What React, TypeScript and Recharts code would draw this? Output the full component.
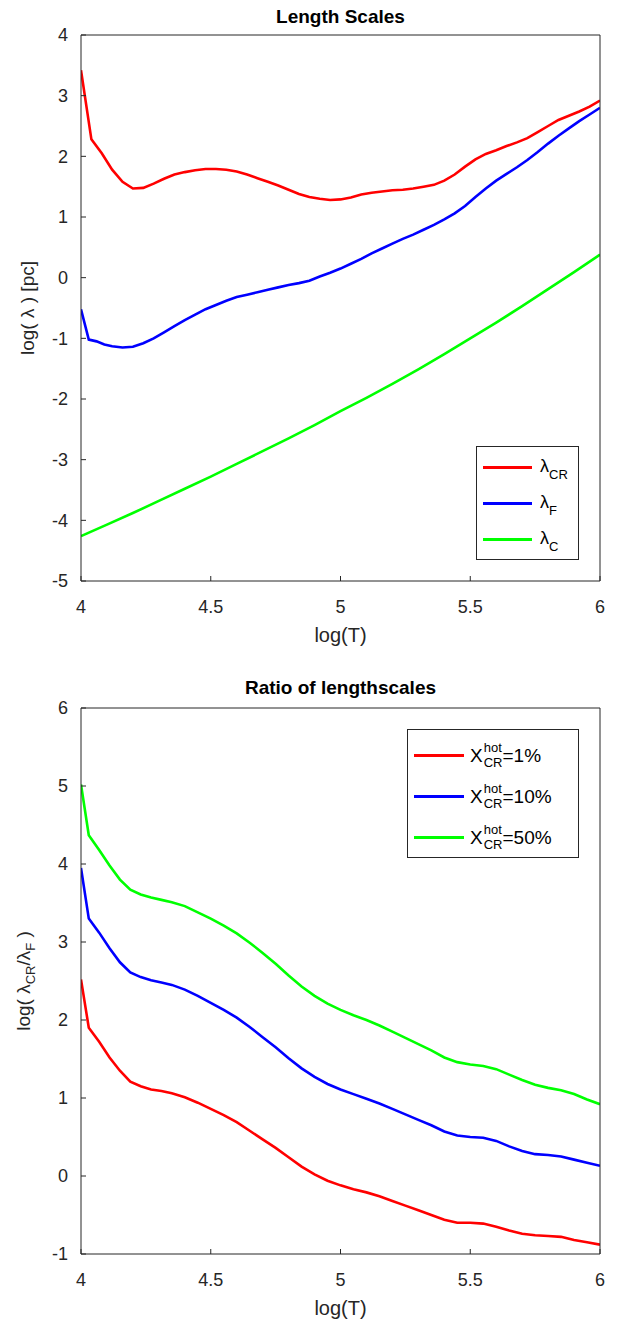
import React from "react";
import { LineChart, Line, XAxis, YAxis } from "recharts";

const FONT = '"Liberation Sans", Arial, Helvetica, sans-serif';
const INK = "#262626";
const RED = "#ff0000";
const BLUE = "#0000ff";
const GREEN = "#00ff00";

// --- Length Scales (log T vs log lambda) ---
const tCR = [4.0, 4.04, 4.08, 4.12, 4.16, 4.2, 4.24, 4.28, 4.32, 4.36, 4.4, 4.44, 4.48, 4.52, 4.56, 4.6, 4.64, 4.68, 4.72, 4.76, 4.8, 4.84, 4.88, 4.92, 4.96, 5.0, 5.04, 5.08, 5.12, 5.16, 5.2, 5.24, 5.28, 5.32, 5.36, 5.4, 5.44, 5.48, 5.52, 5.56, 5.6, 5.64, 5.68, 5.72, 5.76, 5.8, 5.84, 5.88, 5.92, 5.96, 6.0];
const lamCR = [3.42, 2.28, 2.05, 1.78, 1.58, 1.47, 1.48, 1.55, 1.63, 1.7, 1.74, 1.77, 1.79, 1.79, 1.78, 1.75, 1.7, 1.64, 1.58, 1.52, 1.45, 1.38, 1.33, 1.3, 1.28, 1.29, 1.32, 1.37, 1.4, 1.42, 1.44, 1.45, 1.47, 1.5, 1.53, 1.6, 1.7, 1.83, 1.95, 2.04, 2.1, 2.17, 2.23, 2.3, 2.4, 2.5, 2.6, 2.67, 2.74, 2.82, 2.92];

const tF = [4.0, 4.03, 4.06, 4.09, 4.12, 4.16, 4.2, 4.24, 4.28, 4.32, 4.36, 4.4, 4.44, 4.48, 4.52, 4.56, 4.6, 4.64, 4.68, 4.72, 4.76, 4.8, 4.84, 4.88, 4.92, 4.96, 5.0, 5.04, 5.08, 5.12, 5.16, 5.2, 5.24, 5.28, 5.32, 5.36, 5.4, 5.44, 5.48, 5.52, 5.56, 5.6, 5.64, 5.68, 5.72, 5.76, 5.8, 5.84, 5.88, 5.92, 5.96, 6.0];
const lamF = [-0.52, -1.02, -1.05, -1.1, -1.13, -1.15, -1.14, -1.08, -1.0, -0.9, -0.8, -0.7, -0.61, -0.52, -0.45, -0.38, -0.32, -0.28, -0.24, -0.2, -0.16, -0.12, -0.09, -0.05, 0.02, 0.08, 0.15, 0.23, 0.31, 0.4, 0.48, 0.56, 0.64, 0.71, 0.79, 0.87, 0.96, 1.06, 1.18, 1.33, 1.47, 1.6, 1.71, 1.82, 1.94, 2.07, 2.21, 2.34, 2.46, 2.58, 2.69, 2.8];

const tC = [4.0, 4.1, 4.2, 4.3, 4.4, 4.5, 4.6, 4.7, 4.8, 4.9, 5.0, 5.1, 5.2, 5.3, 5.4, 5.5, 5.6, 5.7, 5.8, 5.9, 6.0];
const lamC = [-4.26, -4.07, -3.88, -3.68, -3.48, -3.28, -3.07, -2.86, -2.65, -2.43, -2.2, -1.98, -1.75, -1.51, -1.26, -1.0, -0.74, -0.47, -0.19, 0.09, 0.38];

// --- Ratio of lengthscales ---
const tRatio = [4.0, 4.03, 4.07, 4.11, 4.15, 4.19, 4.23, 4.27, 4.31, 4.35, 4.4, 4.45, 4.5, 4.55, 4.6, 4.65, 4.7, 4.75, 4.8, 4.85, 4.9, 4.95, 5.0, 5.05, 5.1, 5.15, 5.2, 5.25, 5.3, 5.35, 5.4, 5.45, 5.5, 5.55, 5.6, 5.65, 5.7, 5.75, 5.8, 5.85, 5.9, 5.95, 6.0];
const ratio1 = [2.52, 1.9, 1.72, 1.52, 1.35, 1.21, 1.15, 1.11, 1.09, 1.06, 1.01, 0.94, 0.86, 0.78, 0.69, 0.58, 0.47, 0.36, 0.24, 0.12, 0.02, -0.06, -0.12, -0.17, -0.21, -0.26, -0.32, -0.38, -0.44, -0.5, -0.56, -0.6, -0.6, -0.61, -0.65, -0.7, -0.74, -0.76, -0.77, -0.78, -0.82, -0.85, -0.88];
const ratio10 = [3.95, 3.3, 3.12, 2.92, 2.74, 2.61, 2.55, 2.51, 2.48, 2.45, 2.39, 2.31, 2.22, 2.13, 2.03, 1.91, 1.78, 1.65, 1.51, 1.38, 1.27, 1.18, 1.11, 1.05, 0.99, 0.93, 0.86, 0.79, 0.72, 0.65, 0.57, 0.52, 0.5, 0.49, 0.45, 0.38, 0.32, 0.28, 0.27, 0.25, 0.21, 0.17, 0.13];
const ratio50 = [5.02, 4.37, 4.18, 3.98, 3.8, 3.67, 3.61, 3.57, 3.54, 3.51, 3.46, 3.38, 3.3, 3.21, 3.11, 2.99, 2.86, 2.72, 2.57, 2.43, 2.31, 2.21, 2.13, 2.06, 2.0, 1.93, 1.85, 1.77, 1.69, 1.61, 1.52, 1.46, 1.43, 1.41, 1.37, 1.3, 1.23, 1.17, 1.13, 1.1, 1.05, 0.98, 0.92];

const xTicks = [4, 4.5, 5, 5.5, 6];
const yTicksTop = [-5, -4, -3, -2, -1, 0, 1, 2, 3, 4];
const yTicksBottom = [-1, 0, 1, 2, 3, 4, 5, 6];
const topNames = ["CR", "F", "C"];
const bottomNames = ["=1%", "=10%", "=50%"];

const zip = (xs: number[], ys: number[]) => xs.map((t, i) => ({ t, v: ys[i] }));

const tickStyle = { fill: INK, fontSize: 18, fontFamily: FONT };
const blank = () => "";
const colors = [RED, BLUE, GREEN];

function TopYLabel() {
  return (
    <text transform="translate(34,308) rotate(-90)" textAnchor="middle" fill={INK} fontSize={19} fontFamily={FONT}>
      log( λ ) [pc]
    </text>
  );
}

function BottomYLabel() {
  return (
    <text transform="translate(30,319) rotate(-90)" textAnchor="middle" fill={INK} fontSize={19} fontFamily={FONT}>
      <tspan>log( λ</tspan>
      <tspan dy={5} fontSize={13}>CR</tspan>
      <tspan dy={-5}>/λ</tspan>
      <tspan dy={5} fontSize={13}>F</tspan>
      <tspan dy={-5}> )</tspan>
    </text>
  );
}

function TopLegend() {
  return (
    <div style={{ position: "absolute", left: 476, top: 446, width: 101, height: 112, border: `1px solid ${INK}`, background: "#fff", fontFamily: FONT, color: "#000" }}>
      {topNames.map((n, i) => (
        <div key={n} style={{ position: "absolute", left: 6, top: 10 + i * 36, display: "flex", alignItems: "center", height: 20 }}>
          <div style={{ width: 49, height: 3, background: colors[i] }} />
          <span style={{ marginLeft: 8, fontSize: 18, lineHeight: "18px" }}>
            λ<span style={{ fontSize: 13, position: "relative", top: 7 }}>{n}</span>
          </span>
        </div>
      ))}
    </div>
  );
}

function BottomLegend() {
  return (
    <div style={{ position: "absolute", left: 407, top: 729, width: 170, height: 127, border: `1px solid ${INK}`, background: "#fff", fontFamily: FONT, color: "#000" }}>
      {bottomNames.map((n, i) => (
        <div key={n} style={{ position: "absolute", left: 6, top: 11 + i * 41, display: "flex", alignItems: "center", height: 28 }}>
          <div style={{ width: 50, height: 3, background: colors[i] }} />
          <span style={{ marginLeft: 6, fontSize: 19, lineHeight: "19px" }}>X</span>
          <span style={{ display: "inline-flex", flexDirection: "column", fontSize: 13, lineHeight: "13px", marginLeft: 1 }}>
            <span>hot</span>
            <span style={{ marginTop: 2 }}>CR</span>
          </span>
          <span style={{ fontSize: 19, lineHeight: "19px" }}>{n}</span>
        </div>
      ))}
    </div>
  );
}

function Panel({ lines, yDomain, yTicks, yLabel, marginTop, marginBottom }: any) {
  return (
    <LineChart width={619} height={662} margin={{ top: marginTop - 1, right: 18, bottom: marginBottom, left: 21 }}>
      <XAxis dataKey="t" type="number" domain={[4, 6]} ticks={xTicks} allowDataOverflow height={40}
        stroke={INK} tickSize={-5} tickMargin={24} tick={tickStyle} interval={0} />
      <XAxis xAxisId="top" orientation="top" type="number" domain={[4, 6]} ticks={xTicks} height={1}
        stroke={INK} tickSize={-5} tickFormatter={blank} interval={0} />
      <YAxis type="number" domain={yDomain} ticks={yTicks} width={60} stroke={INK} tickSize={-5}
        tickMargin={18} tick={tickStyle} interval={0} label={{ content: yLabel }} />
      <YAxis yAxisId="right" orientation="right" type="number" domain={yDomain} ticks={yTicks} width={1}
        stroke={INK} tickSize={-5} tickFormatter={blank} interval={0} />
      {lines.map((l: any, i: number) => (
        <Line key={i} data={l} dataKey="v" stroke={colors[i]} strokeWidth={2.6} dot={false} isAnimationActive={false} />
      ))}
    </LineChart>
  );
}

export default function App() {
  const W = 619;
  const divText: React.CSSProperties = { position: "absolute", width: W, left: 31, textAlign: "center", fontFamily: FONT, color: "#000" };
  return (
    <div style={{ position: "absolute", left: 0, top: 0, width: W, height: 1324, background: "#fff" }}>
      <div style={{ ...divText, top: 5, fontSize: 19, fontWeight: "bold", lineHeight: "24px" }}>Length Scales</div>
      <div style={{ ...divText, top: 623, fontSize: 20, lineHeight: "24px", color: INK }}>log(T)</div>
      <div style={{ position: "absolute", left: 0, top: 0 }}>
        <Panel lines={[zip(tCR, lamCR), zip(tF, lamF), zip(tC, lamC)]} yDomain={[-5, 4]} yTicks={yTicksTop}
          yLabel={TopYLabel} marginTop={35} marginBottom={41} />
      </div>
      <TopLegend />

      <div style={{ ...divText, top: 676, fontSize: 19, fontWeight: "bold", lineHeight: "24px" }}>Ratio of lengthscales</div>
      <div style={{ ...divText, top: 1296, fontSize: 20, lineHeight: "24px", color: INK }}>log(T)</div>
      <div style={{ position: "absolute", left: 0, top: 662 }}>
        <Panel lines={[zip(tRatio, ratio1), zip(tRatio, ratio10), zip(tRatio, ratio50)]} yDomain={[-1, 6]} yTicks={yTicksBottom}
          yLabel={BottomYLabel} marginTop={46} marginBottom={30} />
      </div>
      <BottomLegend />
    </div>
  );
}
